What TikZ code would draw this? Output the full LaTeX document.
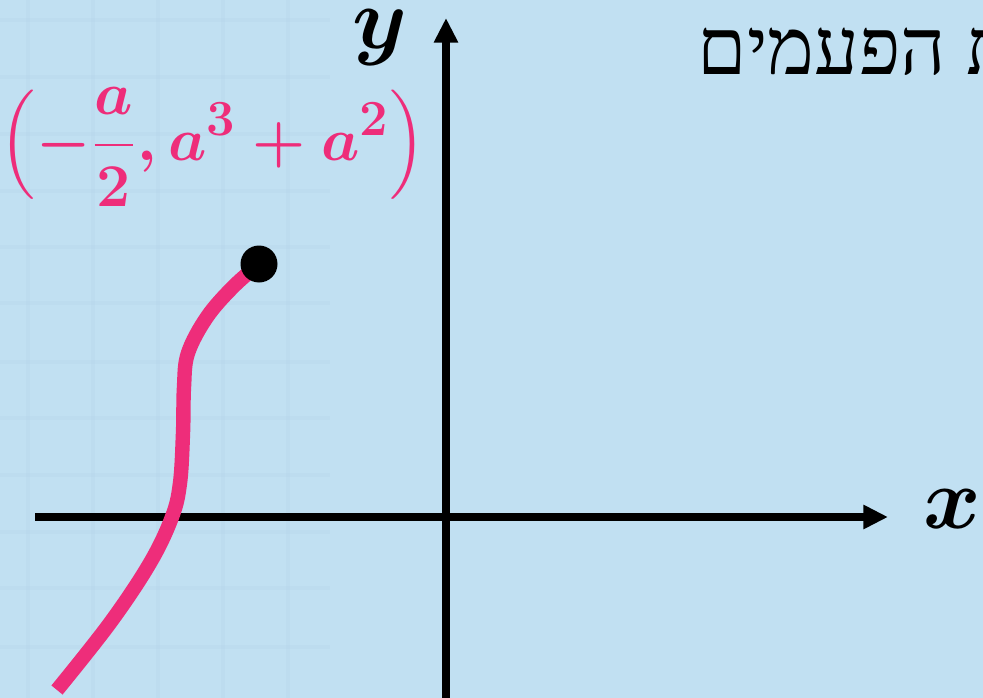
\documentclass[tikz,border=0pt]{standalone}
\usepackage{amsmath}
\usepackage{fontspec}
\newfontfamily\hebfont[Script=Hebrew]{Liberation Serif}
\TeXXeTstate=1
\usetikzlibrary{arrows.meta}
\definecolor{bgblue}{RGB}{193,224,242}
\definecolor{gridblue}{RGB}{180,213,234}
\definecolor{curvepink}{RGB}{238,45,122}
\tikzset{
  axis/.style={line width=2pt,-{Triangle[length=7pt,width=6.5pt]}},
  graph/.style={line width=4.1pt,curvepink},
  axislabel/.style={font=\fontsize{28}{32}\selectfont,inner sep=0pt},
  pointlabel/.style={font=\fontsize{19}{23}\selectfont,text=curvepink,inner sep=0pt},
}
\begin{document}
\begin{tikzpicture}[x=0.1mm,y=-0.1mm]
\useasboundingbox (0,0) rectangle (983,698);
\fill[bgblue] (0,0) rectangle (983,698);
% faint grid on the left
\foreach \gx in {28,93,158,223,288}
  \draw[gridblue,line width=1pt,opacity=0.3] (\gx,0) -- (\gx,698);
\foreach \gy in {20,77,134,191,247,303,362,418,475,532,588,647}
  \draw[gridblue,line width=1pt,opacity=0.3] (0,\gy) -- (330,\gy);
% axes
\coordinate (xl) at (35,517);
\coordinate (xr) at (888,517);
\coordinate (yb) at (446,698);
\coordinate (yt) at (446,18);
\draw[axis] (xl) -- (xr);
\draw[axis] (yb) -- (yt);
\node[axislabel] (xlab) at (952,509) {$\boldsymbol{x}$};
\node[axislabel] (ylab) at (380,38) {$\boldsymbol{y}$};
% the curve
\draw[graph] plot[smooth,tension=0.6] coordinates {(57,690) (110,623) (150,563) (172,517) (180,483) (183,433) (184,387) (188,353) (207,317) (233,287) (259,264)};
\node[circle,fill=black,inner sep=0pt,minimum size=3.7mm] (endpt) at (259,264) {};
\node[pointlabel] (ptlabel) at (213,147) {$\boldsymbol{\Bigl(-\displaystyle\frac{a}{2},a^{3}+a^{2}\Bigr)}$};
% hebrew text, cut at the edge
\node[anchor=base west,inner sep=0pt,font=\hebfont\fontsize{22.5}{27}\selectfont] (heb) at (697,74) {\beginR ת הפעמים\endR};
\end{tikzpicture}
\end{document}
